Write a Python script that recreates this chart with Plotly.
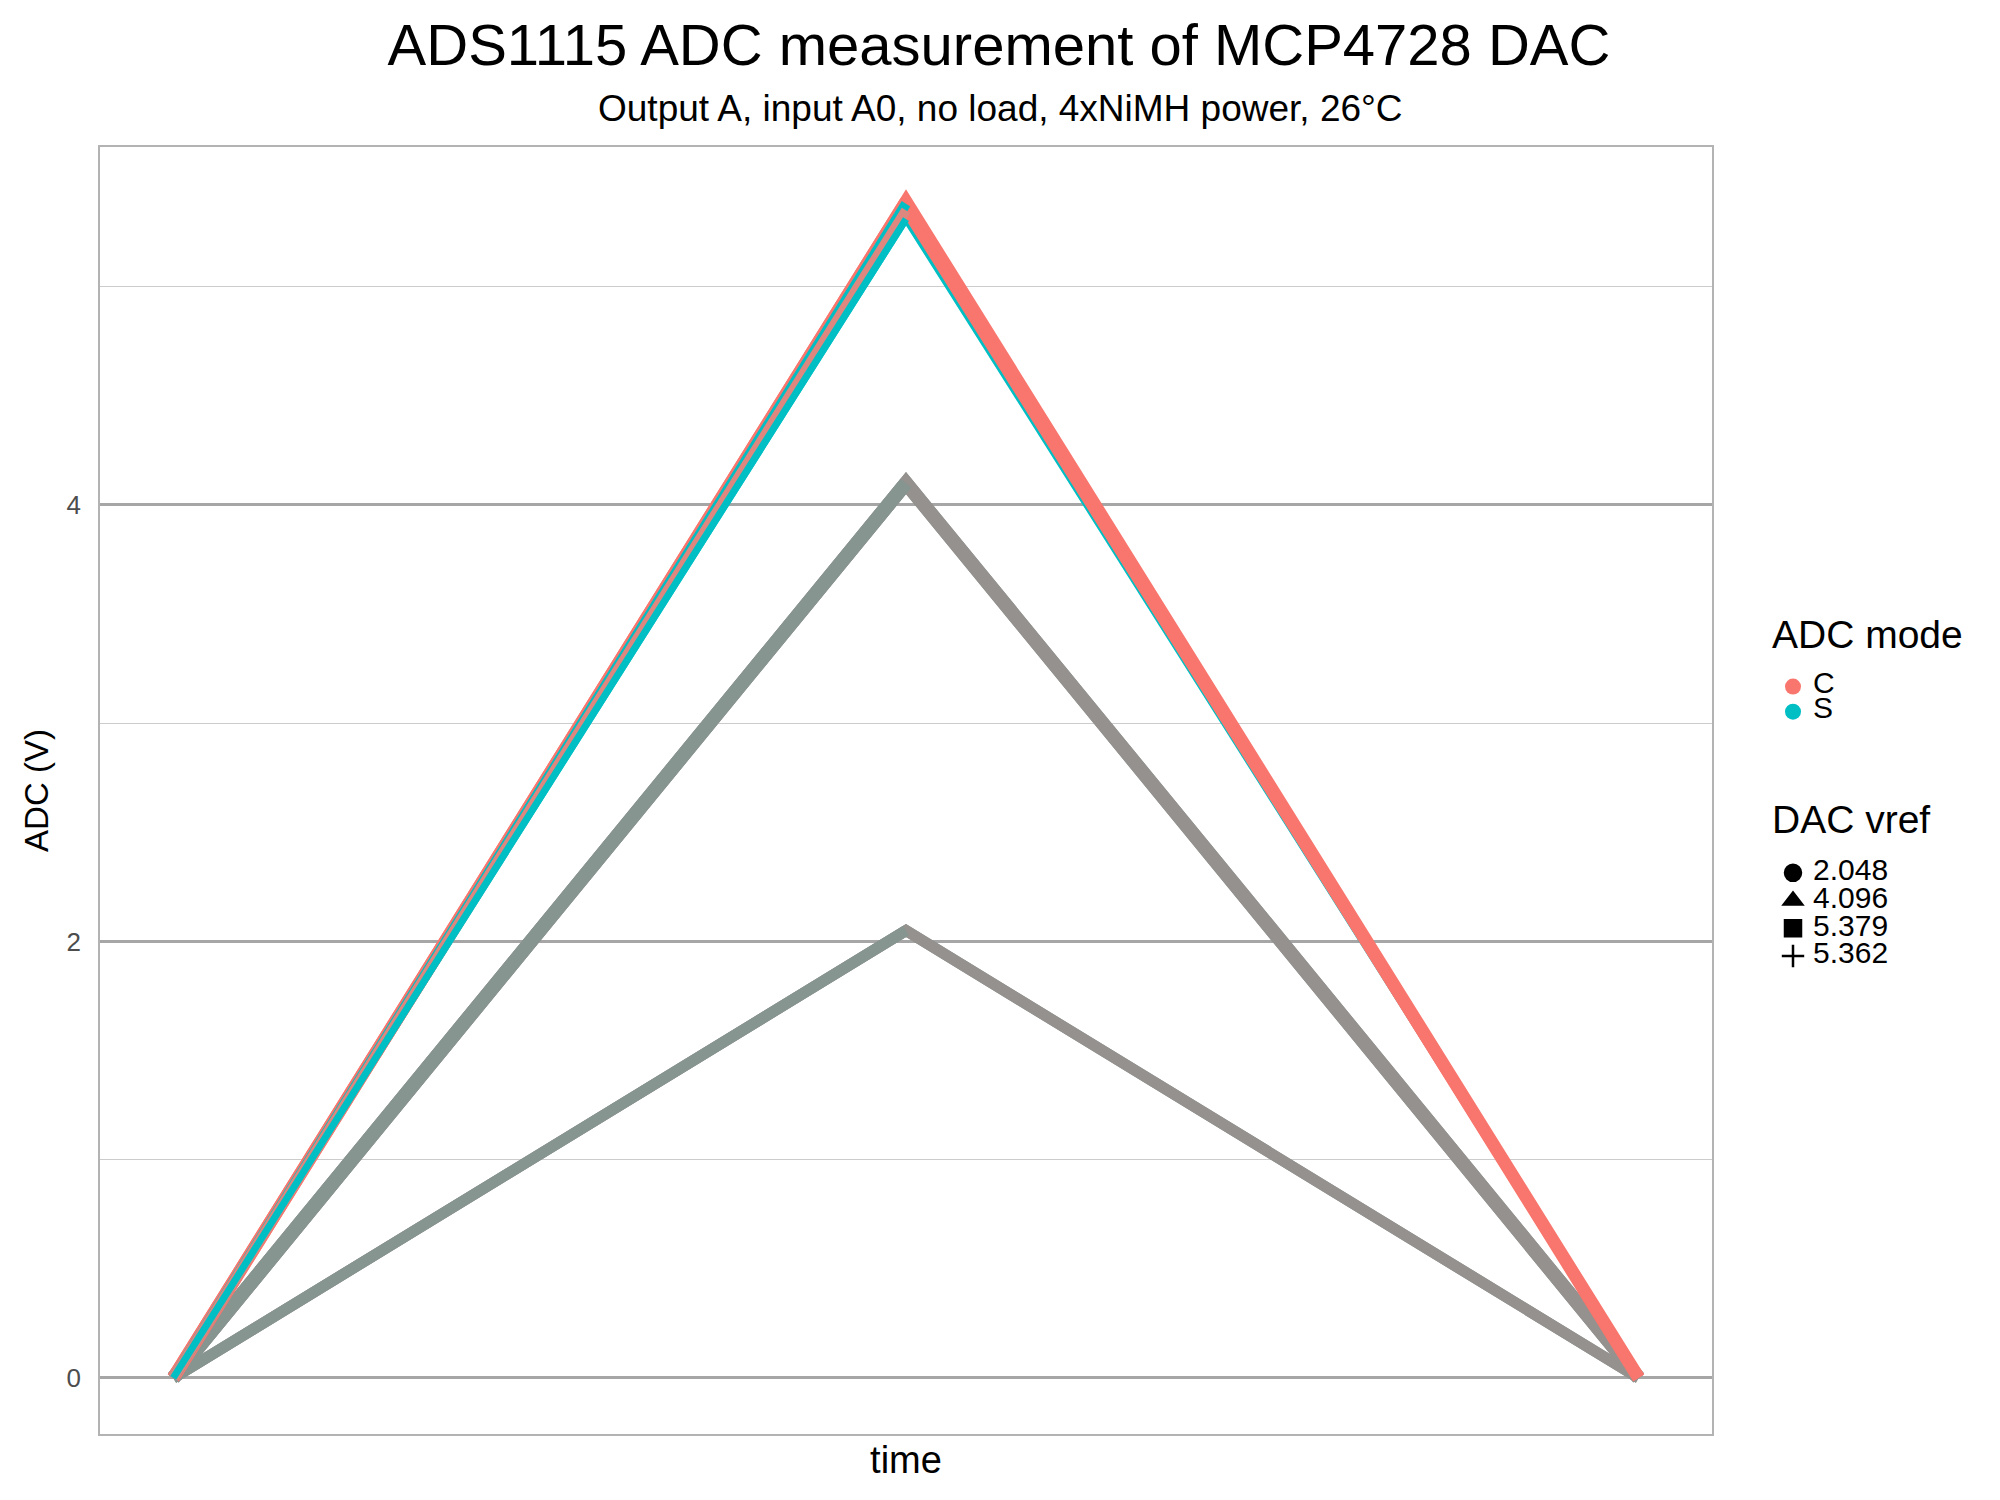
import plotly.graph_objects as go

# ---- data ----
time_idx = [1, 2, 3]
adc_modes = ["C", "S"]
dac_vrefs = ["2.048", "4.096", "5.379", "5.362"]

# ADC readings (V) at ramp start, peak, end
c_5379 = [0.0, 5.39, 0.0]
s_5379 = [0.0, 5.38, 0.0]
c_5362 = [0.0, 5.35, 0.0]
s_5362 = [0.0, 5.31, 0.0]
c_4096 = [0.0, 4.10, 0.0]
s_4096 = [0.0, 4.10, 0.0]
c_2048 = [0.0, 2.05, 0.0]
s_2048 = [0.0, 2.05, 0.0]

RED = "#F8766D"
CYAN = "#00BFC4"
RED_MUTED = "#de877e"
GRAY_S = "#879591"
GRAY_C = "#95918e"
FONT = "Liberation Sans, Arial, sans-serif"

fig = go.Figure()


def line(x, y, color, width):
    fig.add_trace(go.Scatter(x=x, y=y, mode="lines",
                             line=dict(color=color, width=width),
                             showlegend=False, hoverinfo="skip"))


# full lines (falling side ordering)
for y, col, w in [(s_2048, GRAY_S, 11), (c_2048, GRAY_C, 11),
                  (s_4096, GRAY_S, 14), (c_4096, GRAY_C, 14),
                  (s_5379, CYAN, 10), (s_5362, CYAN, 7),
                  (c_5379, RED, 13), (c_5362, RED, 10)]:
    line(time_idx, y, col, w)

# rising side overlays (different drawing order)
for y, col, w in [(s_2048, GRAY_S, 11), (s_4096, GRAY_S, 14),
                  (c_5379, RED, 13), (s_5379, CYAN, 10),
                  (c_5362, RED_MUTED, 10), (s_5362, CYAN, 7)]:
    line(time_idx[:2], y[:2], col, w)


def lab(t):
    return "<span style='font-size:30px'>%s</span>" % t


# legend: ADC mode
for name, col in zip(adc_modes, [RED, CYAN]):
    fig.add_trace(go.Scatter(x=[None], y=[None], mode="markers", name=lab(name),
                             marker=dict(color=col, size=16, symbol="circle"),
                             legend="legend"))
# legend: DAC vref
symbols = ["circle", "triangle-up", "square", "cross-thin-open"]
for name, sym in zip(dac_vrefs, symbols):
    fig.add_trace(go.Scatter(x=[None], y=[None], mode="markers", name=lab(name),
                             marker=dict(color="black", size=16, symbol=sym,
                                         line=dict(color="black", width=2.5)),
                             legend="legend2"))

legend_titles = [("ADC mode", 0.6216), ("DAC vref", 0.4771)]

fig.update_layout(
    width=2000, height=1500,
    margin=dict(l=91.5, r=296, t=139, b=74),
    paper_bgcolor="white", plot_bgcolor="white",
    font=dict(family=FONT, color="black"),
    title=dict(text="ADS1115 ADC measurement of MCP4728 DAC",
               font=dict(size=58, color="black"),
               x=0.4955, xref="container", xanchor="center",
               y=1 - 37 / 1500, yref="container", yanchor="middle"),
    annotations=[dict(text="Output A, input A0, no load, 4xNiMH power, 26°C",
                      xref="paper", yref="paper",
                      x=0.5584, y=1.0303,
                      xanchor="center", yanchor="middle", showarrow=False,
                      font=dict(size=37, color="black"))]
    + [dict(text=t, xref="paper", yref="paper", x=1.0357, y=yy,
            xanchor="left", yanchor="middle", showarrow=False,
            font=dict(size=39, color="black")) for t, yy in legend_titles],
    legend=dict(font=dict(size=17), xref="container", yref="container",
                x=0.8825, y=1 - 661 / 1500, xanchor="left", yanchor="top",
                tracegroupgap=0, itemsizing="trace", bgcolor="rgba(0,0,0,0)"),
    legend2=dict(font=dict(size=19), xref="container", yref="container",
                 x=0.8825, y=1 - 846 / 1500, xanchor="left", yanchor="top",
                 tracegroupgap=0, itemsizing="trace", bgcolor="rgba(0,0,0,0)"),
)

fig.update_xaxes(range=[0.9, 3.1], showticklabels=False, ticks="",
                 showgrid=False, zeroline=False,
                 showline=True, mirror=True, linecolor="#b3b3b3", linewidth=1.5,
                 title=dict(text="time", font=dict(size=38), standoff=12))
fig.update_yaxes(range=[-0.2566, 5.640], tickvals=[0, 2, 4], ticktext=["0", "2", "4"],
                 ticks="", ticklabelstandoff=12,
                 tickfont=dict(size=26, color="#4d4d4d"),
                 showgrid=True, gridcolor="#a6a6a6", gridwidth=3,
                 minor=dict(tickvals=[1, 3, 5], showgrid=True,
                            gridcolor="#cccccc", gridwidth=1.4, ticks=""),
                 zeroline=False,
                 showline=True, mirror=True, linecolor="#b3b3b3", linewidth=1.5,
                 title=dict(text="ADC (V)", font=dict(size=33), standoff=8))

fig.write_html("out.html")
